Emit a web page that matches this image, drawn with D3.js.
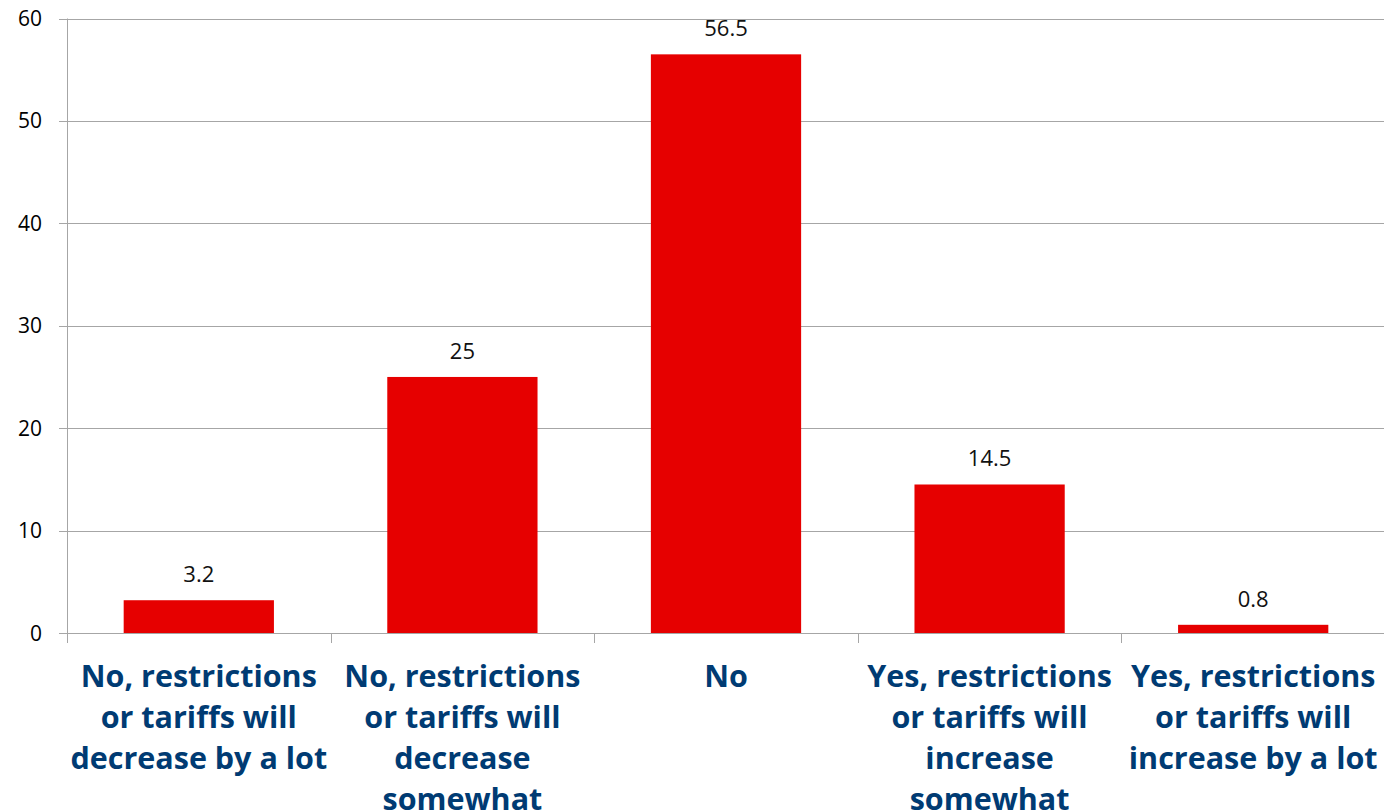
<!DOCTYPE html>
<html>
<head>
<meta charset="utf-8">
<script src="https://cdn.jsdelivr.net/npm/d3@7"></script>
<style>
  html, body { margin: 0; padding: 0; background: #fff; overflow: hidden; }
  svg { display: block; }
</style>
</head>
<body>
<script>
const categories = [
  ["No, restrictions", "or tariffs will", "decrease by a lot"],
  ["No, restrictions", "or tariffs will", "decrease", "somewhat"],
  ["No"],
  ["Yes, restrictions", "or tariffs will", "increase", "somewhat"],
  ["Yes, restrictions", "or tariffs will", "increase by a lot"]
];
const values = [3.2, 25, 56.5, 14.5, 0.8];
const yTicks = [0, 10, 20, 30, 40, 50, 60];

const width = 1384, height = 811;
const margin = {top: 18.5, right: -1, bottom: 178, left: 67};

const svg = d3.select("body").append("svg")
  .attr("width", width)
  .attr("height", height);

const x = d3.scaleBand()
  .domain(d3.range(values.length))
  .range([margin.left, width - margin.right])
  .paddingInner(0.43)
  .paddingOuter(0.215);

const y = d3.scaleLinear()
  .domain([0, 60])
  .range([height - margin.bottom, margin.top]);

// gridlines
svg.append("g")
  .selectAll("line")
  .data(yTicks)
  .join("line")
  .attr("x1", margin.left - 8)
  .attr("x2", width)
  .attr("y1", d => Math.round(y(d)) + 0.5)
  .attr("y2", d => Math.round(y(d)) + 0.5)
  .attr("stroke", "#a6a6a6")
  .attr("stroke-width", 1);

// y tick labels
svg.append("g")
  .selectAll("text")
  .data(yTicks)
  .join("text")
  .attr("x", 42)
  .attr("y", d => y(d))
  .attr("dy", "0.36em")
  .attr("text-anchor", "end")
  .attr("font-family", "'Open Sans', sans-serif")
  .attr("font-size", 21)
  .attr("fill", "#000")
  .text(d => d);

// y axis line
svg.append("line")
  .attr("x1", margin.left + 0.5)
  .attr("x2", margin.left + 0.5)
  .attr("y1", y(60))
  .attr("y2", y(0) + 10)
  .attr("stroke", "#a6a6a6");

// x category ticks
const step = x.step();
svg.append("g")
  .selectAll("line")
  .data(d3.range(values.length))
  .join("line")
  .attr("x1", i => Math.round(x(i) - x.paddingOuter() * step) + 0.5)
  .attr("x2", i => Math.round(x(i) - x.paddingOuter() * step) + 0.5)
  .attr("y1", y(0))
  .attr("y2", y(0) + 10)
  .attr("stroke", "#a6a6a6");

// bars
svg.append("g")
  .selectAll("rect")
  .data(values)
  .join("rect")
  .attr("x", (d, i) => x(i))
  .attr("width", x.bandwidth())
  .attr("y", d => y(d))
  .attr("height", d => y(0) - y(d))
  .attr("fill", "#e60000");

// value labels
svg.append("g")
  .selectAll("text")
  .data(values)
  .join("text")
  .attr("x", (d, i) => x(i) + x.bandwidth() / 2)
  .attr("y", d => y(d) - 18)
  .attr("text-anchor", "middle")
  .attr("font-family", "'Open Sans', sans-serif")
  .attr("font-size", 22)
  .attr("fill", "#111")
  .text(d => d);

// category labels
const labels = svg.append("g")
  .selectAll("text")
  .data(categories)
  .join("text")
  .attr("text-anchor", "middle")
  .attr("font-family", "'Open Sans', sans-serif")
  .attr("font-weight", "bold")
  .attr("font-size", 30.5)
  .attr("fill", "#003b73");

labels.selectAll("tspan")
  .data((d, i) => d.map(line => ({line, i})))
  .join("tspan")
  .attr("x", d => x(d.i) + x.bandwidth() / 2)
  .attr("y", (d, j) => 687 + j * 41)
  .text(d => d.line);
</script>
</body>
</html>
